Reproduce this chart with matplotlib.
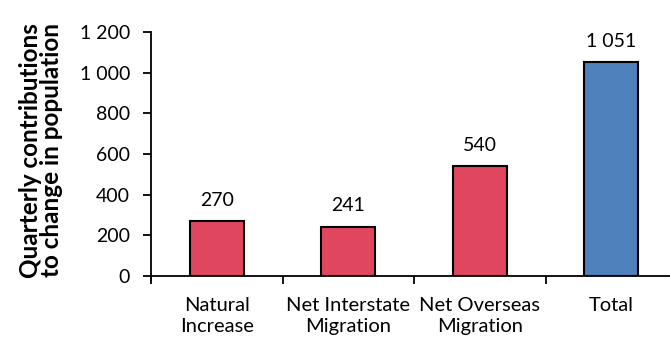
import matplotlib
matplotlib.use("Agg")
import matplotlib.pyplot as plt

categories = ["Natural\nIncrease", "Net Interstate\nMigration", "Net Overseas\nMigration", "Total"]
values = [270, 241, 540, 1051]
value_labels = ["270", "241", "540", "1 051"]
yticks = [0, 200, 400, 600, 800, 1000, 1200]
ytick_labels = ["0", "200", "400", "600", "800", "1 000", "1 200"]
colors = ["#E0475F", "#E0475F", "#E0475F", "#4F81BD"]

plt.rcParams['font.family'] = ['Lato', 'DejaVu Sans']

fig = plt.figure(figsize=(6.70, 3.39), dpi=100)
ax = fig.add_axes([151/670, (339-276)/339, (677-151)/670, (276-32)/339])

x = list(range(len(categories)))
ax.bar(x, values, width=0.41, color=colors, edgecolor="black", linewidth=1.5, zorder=3)
for xi, v, lab in zip(x, values, value_labels):
    ax.annotate(lab, (xi, v), xytext=(0, 9), textcoords="offset points",
                ha="center", va="bottom", fontsize=14)

ax.set_xlim(-0.5, len(categories) - 0.5)
ax.set_ylim(0, 1200)
ax.set_yticks(yticks)
ax.set_yticklabels(ytick_labels, fontsize=14)
ax.set_xticks([i - 0.5 for i in range(len(categories) + 1)])
ax.set_xticklabels([])
ax.set_xticks(x, minor=True)
ax.set_xticklabels(categories, minor=True, fontsize=14.5, linespacing=1.3)
ax.tick_params(axis="x", which="minor", length=0, pad=15)
ax.tick_params(axis="x", which="major", length=6, width=1.3, direction="out")
ax.tick_params(axis="y", length=6, width=1.3, direction="out", pad=9)

for s in ["top", "right"]:
    ax.spines[s].set_visible(False)
ax.spines["left"].set_linewidth(1.3)
ax.spines["bottom"].set_linewidth(1.3)
ax.spines["left"].set_bounds(-20, 1200)

ax.set_ylabel("Quarterly contributions\nto change in population", fontsize=17.5,
              fontweight="bold", linespacing=0.9)
ax.yaxis.set_label_coords(-0.168, 0.515)

fig.savefig("out.png", dpi=100)
